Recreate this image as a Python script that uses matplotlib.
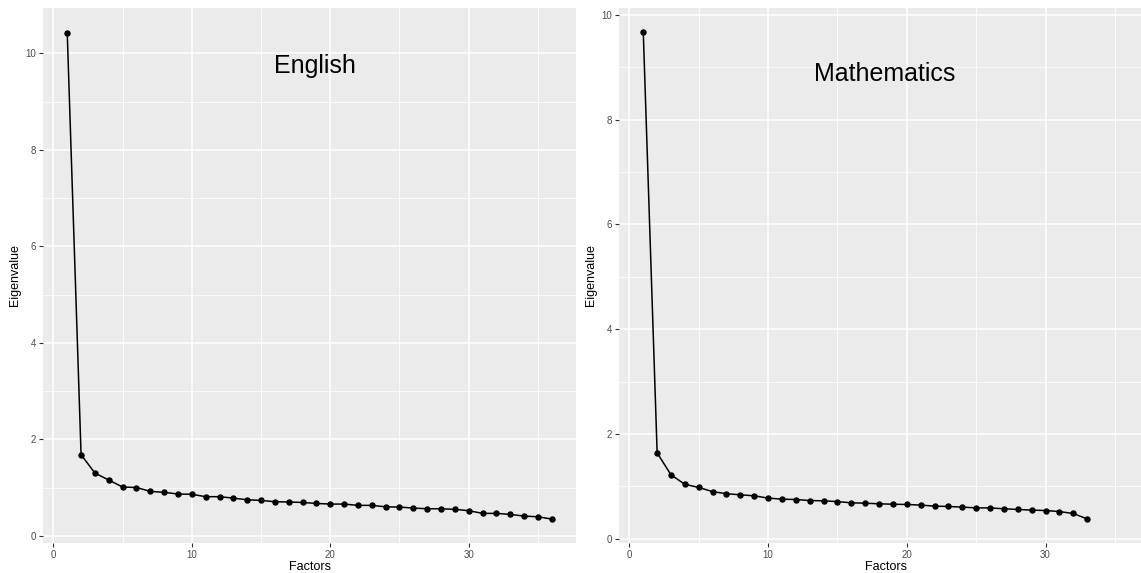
import matplotlib
matplotlib.use("Agg")
import matplotlib.pyplot as plt
from matplotlib.ticker import MultipleLocator

plt.rcParams["font.family"] = ["Liberation Sans", "DejaVu Sans"]

# eigenvalues
english_eig = [10.43, 1.68, 1.30, 1.155, 1.01, 1.00, 0.92, 0.90, 0.865, 0.86,
               0.81, 0.81, 0.78, 0.746, 0.733, 0.705, 0.70, 0.69, 0.67, 0.657,
               0.657, 0.63, 0.63, 0.60, 0.595, 0.574, 0.56, 0.56, 0.547, 0.52,
               0.464, 0.464, 0.443, 0.408, 0.394, 0.346]
math_eig = [9.67, 1.64, 1.22, 1.04, 0.98, 0.90, 0.86, 0.84, 0.82, 0.777,
            0.757, 0.75, 0.73, 0.725, 0.71, 0.687, 0.68, 0.668, 0.66, 0.655,
            0.643, 0.624, 0.617, 0.605, 0.59, 0.59, 0.573, 0.56, 0.548, 0.54,
            0.52, 0.483, 0.38]
english_factors = list(range(1, len(english_eig) + 1))
math_factors = list(range(1, len(math_eig) + 1))

W, H = 1141, 573
fig = plt.figure(figsize=(W / 100, H / 100), dpi=100)
fig.patch.set_facecolor("white")


def px_axes(x0, y0, x1, y1):
    return fig.add_axes([x0 / W, 1 - y1 / H, (x1 - x0) / W, (y1 - y0) / H])


def style(ax):
    ax.set_facecolor("#EBEBEB")
    for s in ax.spines.values():
        s.set_visible(False)
    ax.xaxis.set_major_locator(MultipleLocator(10))
    ax.xaxis.set_minor_locator(MultipleLocator(5))
    ax.yaxis.set_major_locator(MultipleLocator(2))
    ax.yaxis.set_minor_locator(MultipleLocator(1))
    ax.grid(True, which="major", color="white", linewidth=1.1)
    ax.grid(True, which="minor", color="white", linewidth=0.55)
    ax.set_axisbelow(True)
    ax.tick_params(which="major", length=3, width=0.8, color="#333333",
                   labelcolor="#4D4D4D", labelsize=7, pad=2)
    ax.tick_params(which="minor", length=0)
    ax.set_xlabel("Factors", fontsize=9, labelpad=1)
    ax.set_ylabel("Eigenvalue", fontsize=9, labelpad=3)


panels = [
    (px_axes(43, 8, 576, 543), english_factors, english_eig, "English",
     (-0.75, 37.75), (-0.15, 10.94), (18.9, 9.73)),
    (px_axes(619, 8, 1153, 543), math_factors, math_eig, "Mathematics",
     (-0.75, 37.75), (-0.08, 10.13), (18.4, 8.87)),
]

for ax, xs, ys, title, xl, yl, tpos in panels:
    style(ax)
    ax.plot(xs, ys, color="black", linewidth=1.1, marker="o", markersize=3.6,
            zorder=3)
    ax.set_xlim(*xl)
    ax.set_ylim(*yl)
    ax.text(tpos[0], tpos[1], title, fontsize=18, ha="center", va="center",
            color="black")

fig.savefig("out.png", dpi=100)
